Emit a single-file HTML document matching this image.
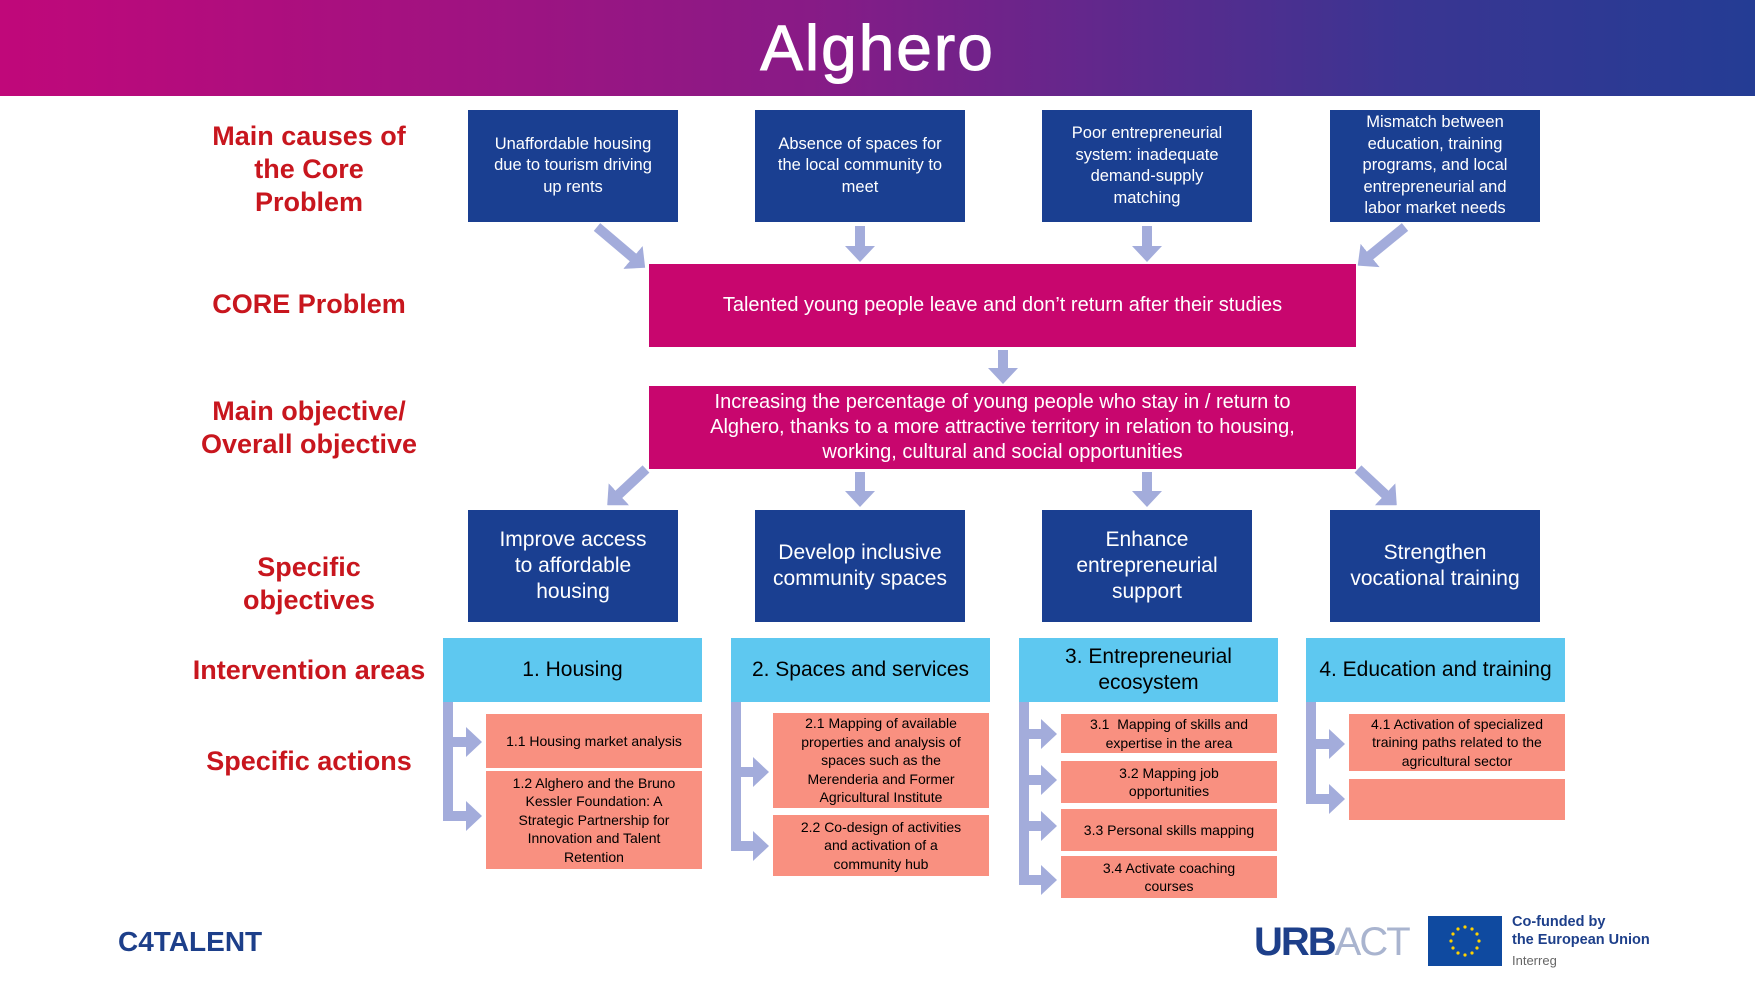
<!DOCTYPE html>
<html><head><meta charset="utf-8">
<style>
body{margin:0;width:1755px;height:991px;position:relative;overflow:hidden;background:#fff;font-family:"Liberation Sans",Arial,sans-serif;}
.a{position:absolute;display:flex;align-items:center;justify-content:center;text-align:center;box-sizing:border-box;}
.hdr{left:0;top:0;width:1755px;height:96px;background:linear-gradient(90deg,#c0087a 0%,#8a1a86 45%,#3a3592 80%,#243c94 100%);}
.title{left:0;top:0;width:1755px;height:96px;color:#fff;font-size:64px;font-weight:normal;letter-spacing:2px;-webkit-text-stroke:1px #fff;}
.lab{color:#c8161e;font-weight:bold;font-size:27px;line-height:33px;width:260px;left:179px;}
.cause{background:#1a3f91;color:#fff;font-size:16.5px;line-height:21.5px;width:210px;height:112px;top:110px;padding:0 18px;}
.pink{background:#c8066e;color:#fff;left:649px;width:707px;font-size:20px;line-height:25px;padding:0 40px;}
.so{background:#1a3f91;color:#fff;font-size:21px;line-height:26px;width:210px;height:112px;top:510px;padding:0 24px;}
.ia{background:#5ec8f0;color:#000;font-size:21px;line-height:26px;width:259px;height:64px;top:638px;}
.act{background:#f99080;color:#000;font-size:14px;line-height:18.5px;width:216px;padding:0 16px;}
</style></head><body>
<div class="a hdr"></div>
<div class="a title">Alghero</div>

<div class="a lab" style="top:118px;height:102px;">Main causes of<br>the Core<br>Problem</div>
<div class="a lab" style="top:288px;height:33px;">CORE Problem</div>
<div class="a lab" style="top:395px;height:66px;">Main objective/<br>Overall objective</div>
<div class="a lab" style="top:551px;height:66px;">Specific<br>objectives</div>
<div class="a lab" style="top:654px;height:33px;left:169px;width:280px;">Intervention areas</div>
<div class="a lab" style="top:745px;height:33px;">Specific actions</div>

<div class="a cause" style="left:468px;">Unaffordable housing due to tourism driving up rents</div>
<div class="a cause" style="left:755px;">Absence of spaces for the local community to meet</div>
<div class="a cause" style="left:1042px;padding:0 22px;">Poor entrepreneurial system: inadequate demand-supply matching</div>
<div class="a cause" style="left:1330px;padding:0 22px;">Mismatch between education, training programs, and local entrepreneurial and labor market needs</div>

<div class="a pink" style="top:264px;height:83px;">Talented young people leave and don’t return after their studies</div>
<div class="a pink" style="top:386px;height:83px;">Increasing the percentage of young people who stay in / return to Alghero, thanks to a more attractive territory in relation to housing, working, cultural and social opportunities</div>

<div class="a so" style="left:468px;">Improve access to affordable housing</div>
<div class="a so" style="left:755px;padding:0 10px;">Develop inclusive community spaces</div>
<div class="a so" style="left:1042px;">Enhance entrepreneurial support</div>
<div class="a so" style="left:1330px;padding:0 10px;">Strengthen vocational training</div>

<div class="a ia" style="left:443px;">1. Housing</div>
<div class="a ia" style="left:731px;">2. Spaces and services</div>
<div class="a ia" style="left:1019px;">3. Entrepreneurial<br>ecosystem</div>
<div class="a ia" style="left:1306px;">4. Education and training</div>

<div class="a act" style="left:486px;top:714px;height:54px;padding:0 6px;">1.1 Housing market analysis</div>
<div class="a act" style="left:486px;top:771px;height:98px;">1.2 Alghero and the Bruno Kessler Foundation: A Strategic Partnership for Innovation and Talent Retention</div>
<div class="a act" style="left:773px;top:713px;height:95px;">2.1 Mapping of available properties and analysis of spaces such as the Merenderia and Former Agricultural Institute</div>
<div class="a act" style="left:773px;top:815px;height:61px;padding:0 20px;">2.2 Co-design of activities and activation of a community hub</div>
<div class="a act" style="left:1061px;top:714px;height:39px;padding:0 20px;">3.1&nbsp; Mapping of skills and expertise in the area</div>
<div class="a act" style="left:1061px;top:761px;height:42px;padding:0 50px;">3.2 Mapping job opportunities</div>
<div class="a act" style="left:1061px;top:809px;height:42px;padding:0 6px;">3.3 Personal skills mapping</div>
<div class="a act" style="left:1061px;top:856px;height:42px;padding:0 40px;">3.4 Activate coaching courses</div>
<div class="a act" style="left:1349px;top:714px;height:57px;">4.1 Activation of specialized training paths related to the agricultural sector</div>
<div class="a act" style="left:1349px;top:779px;height:41px;"></div>

<svg style="position:absolute;left:0;top:0" width="1755" height="991">
<defs>
<marker id="h" markerUnits="userSpaceOnUse" markerWidth="16" markerHeight="30" refX="4" refY="15" orient="auto">
<path d="M0,0 L16,15 L0,30 z" fill="#a3acdb"/>
</marker>
</defs>
<g stroke="#a3acdb" stroke-width="10" fill="none" marker-end="url(#h)">
<line x1="597" y1="227" x2="636" y2="260"/>
<line x1="860" y1="226" x2="860" y2="250"/>
<line x1="1147" y1="226" x2="1147" y2="250"/>
<line x1="1405" y1="227" x2="1367" y2="258"/>
<line x1="1003" y1="350" x2="1003" y2="372"/>
<line x1="646" y1="469" x2="616" y2="497"/>
<line x1="860" y1="472" x2="860" y2="495"/>
<line x1="1147" y1="472" x2="1147" y2="495"/>
<line x1="1358" y1="469" x2="1388" y2="497"/>
<line x1="448" y1="742" x2="470" y2="742"/>
<line x1="448" y1="816" x2="470" y2="816"/>
<line x1="736" y1="772" x2="757" y2="772"/>
<line x1="736" y1="846" x2="757" y2="846"/>
<line x1="1024" y1="734" x2="1045" y2="734"/>
<line x1="1024" y1="780" x2="1045" y2="780"/>
<line x1="1024" y1="826" x2="1045" y2="826"/>
<line x1="1024" y1="880" x2="1045" y2="880"/>
<line x1="1311" y1="744" x2="1333" y2="744"/>
<line x1="1311" y1="799" x2="1333" y2="799"/>
</g>
<g fill="#a3acdb">
<rect x="443" y="702" width="10" height="119"/>
<rect x="731" y="702" width="10" height="149"/>
<rect x="1019" y="702" width="10" height="183"/>
<rect x="1306" y="702" width="10" height="102"/>
</g>
</svg>

<div class="a" style="left:118px;top:922px;height:40px;color:#1d3f8a;font-size:28px;font-weight:bold;">C4TALENT</div>
<div class="a" style="left:1254px;top:917px;height:50px;font-size:40px;font-weight:bold;letter-spacing:-2px;"><span style="color:#1d3f8a">URB</span><span style="color:#a9b4cf;font-weight:normal">ACT</span></div>
<div class="a" style="left:1428px;top:916px;width:74px;height:50px;background:#0f4aa0;">
<svg width="74" height="50"><g fill="#ffd200">
<circle cx="37" cy="11" r="1.6"/><circle cx="44" cy="13" r="1.6"/><circle cx="49" cy="18" r="1.6"/><circle cx="51" cy="25" r="1.6"/><circle cx="49" cy="32" r="1.6"/><circle cx="44" cy="37" r="1.6"/><circle cx="37" cy="39" r="1.6"/><circle cx="30" cy="37" r="1.6"/><circle cx="25" cy="32" r="1.6"/><circle cx="23" cy="25" r="1.6"/><circle cx="25" cy="18" r="1.6"/><circle cx="30" cy="13" r="1.6"/></g></svg></div>
<div style="position:absolute;left:1512px;top:913px;color:#1d3f8a;font-size:14.5px;font-weight:bold;line-height:18px;">Co-funded by<br>the European Union</div>
<div style="position:absolute;left:1512px;top:953px;color:#666;font-size:13px;">Interreg</div>
</body></html>
